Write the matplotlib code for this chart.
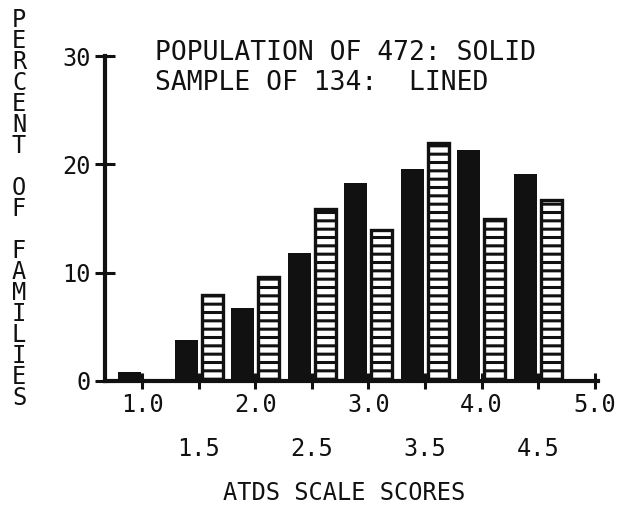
import numpy as np
import matplotlib
matplotlib.use('Agg')
import matplotlib.pyplot as plt

# ATDS scale score groups (bin upper values)
scores = [1.0, 1.5, 2.0, 2.5, 3.0, 3.5, 4.0, 4.5]
# percent of families, population (solid) and sample (lined)
population = [0.8, 3.8, 6.7, 11.8, 18.3, 19.6, 21.3, 19.1]
sample = [0.0, 7.9, 9.6, 15.9, 13.9, 22.0, 15.0, 16.7]

major_ticks = [1.0, 2.0, 3.0, 4.0, 5.0]
minor_ticks = [1.5, 2.5, 3.5, 4.5]
y_ticks = [0, 10, 20, 30]

FONT = 'DejaVu Sans Mono'
plt.rcParams['font.family'] = FONT
plt.rcParams['hatch.linewidth'] = 2.2
plt.rcParams['hatch.color'] = '#111111'

fig = plt.figure(figsize=(6.35, 5.16), dpi=100)
ax = fig.add_axes([105/635, 1 - 381/516, (598-105)/635, (381-56)/516])

x = np.array(scores)
ax.bar(x - 0.215, population, width=0.205, align='edge', color='#111111', linewidth=0)
ax.bar(x + 0.025, sample, width=0.185, align='edge', facecolor='white',
       edgecolor='#111111', linewidth=2.4, hatch='--')

ax.set_xlim(0.67, 5.03)
ax.set_ylim(0, 30)

for s in ['top', 'right']:
    ax.spines[s].set_visible(False)
for s in ['left', 'bottom']:
    ax.spines[s].set_linewidth(3)
    ax.spines[s].set_color('#111111')

ax.set_xticks(major_ticks)
ax.set_xticklabels(['%.1f' % v for v in major_ticks])
ax.set_xticks(minor_ticks, minor=True)
ax.set_xticklabels(['%.1f' % v for v in minor_ticks], minor=True)
ax.set_yticks(y_ticks)
ax.set_yticklabels([str(v) for v in y_ticks])

ax.tick_params(axis='x', which='both', direction='inout', length=12, width=2.2,
               color='#111111', labelsize=17, labelcolor='#111111')
ax.tick_params(axis='x', which='major', pad=3)
ax.tick_params(axis='x', which='minor', pad=34)
ax.tick_params(axis='y', direction='inout', length=14, width=2.2,
               color='#111111', labelsize=17, labelcolor='#111111', pad=3)

fig.text(155/635, 1 - 60/516, 'POPULATION OF 472: SOLID', fontsize=19,
         color='#111111', va='baseline', ha='left')
fig.text(155/635, 1 - 90/516, 'SAMPLE OF 134:  LINED', fontsize=19,
         color='#111111', va='baseline', ha='left')

fig.text(344/635, 1 - 493/516, 'ATDS SCALE SCORES', fontsize=17,
         color='#111111', ha='center', va='center')
fig.text(19/635, 1 - 209/516, '\n'.join('PERCENT OF FAMILIES'), fontsize=17,
         color='#111111', ha='center', va='center', linespacing=0.84)

fig.savefig('out.png', dpi=100, facecolor='white')
